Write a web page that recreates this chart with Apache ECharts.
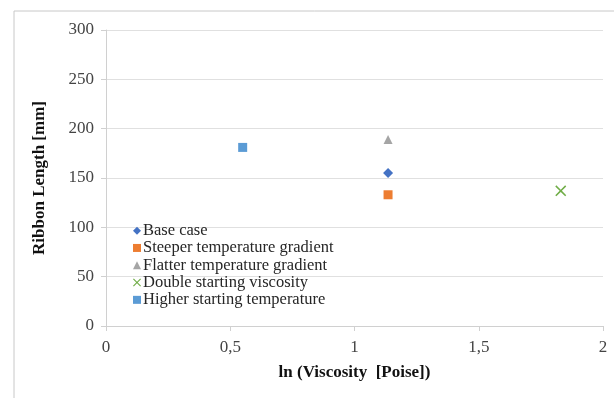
<!DOCTYPE html>
<html>
<head>
<meta charset="utf-8">
<script src="https://cdn.jsdelivr.net/npm/echarts@6/dist/echarts.min.js"></script>
<style>
  html, body { margin: 0; padding: 0; background: #fff; }
  #main { width: 614px; height: 398px; }
</style>
</head>
<body>
<div id="main"></div>
<script>
var seriesNames = ['Base case', 'Steeper temperature gradient', 'Flatter temperature gradient',
    'Double starting viscosity', 'Higher starting temperature'];
var xValues = [1.135, 1.135, 1.135, 1.83, 0.55];
var yValues = [155, 133, 189, 137, 181];
var colors = ['#4472C4', '#ED7D31', '#A5A5A5', '#70AD47', '#5B9BD5'];

var crossPath = 'path://M0,1L1,0L5,4L9,0L10,1L6,5L10,9L9,10L5,6L1,10L0,9L4,5Z';
var symbols = ['diamond', 'rect', 'triangle', crossPath, 'rect'];
var sizes = [10, 9, 9, 11, 9];

var myChart = echarts.init(document.getElementById('main'));

var series = seriesNames.map(function (name, i) {
    return {
        name: name,
        type: 'scatter',
        symbol: symbols[i],
        symbolSize: sizes[i],
        itemStyle: { color: colors[i], opacity: 1 },
        data: [[xValues[i], yValues[i]]]
    };
});

var option = {
    animation: false,
    backgroundColor: '#fff',
    graphic: [{
        type: 'rect',
        shape: { x: 14, y: 11, width: 620, height: 400 },
        style: { fill: 'none', stroke: '#c8c8c8', lineWidth: 1 },
        silent: true
    }],
    grid: { left: 106, right: 11, top: 30, bottom: 72 },
    legend: {
        orient: 'vertical',
        left: 128,
        top: 217,
        itemWidth: 8,
        itemHeight: 8,
        itemGap: 0,
        textStyle: { fontFamily: 'Liberation Serif', fontSize: 16.5, color: '#262626', lineHeight: 17.3, padding: [0, 0, 0, -3] },
        data: seriesNames
    },
    xAxis: {
        type: 'value',
        min: 0,
        max: 2,
        interval: 0.5,
        name: 'ln (Viscosity  [Poise])',
        nameLocation: 'middle',
        nameGap: 38,
        nameTextStyle: { fontFamily: 'Liberation Serif', fontSize: 17, fontWeight: 'bold', color: '#111' },
        axisLine: { show: true, lineStyle: { color: '#d0d0d0' } },
        axisTick: { show: true, length: 5, lineStyle: { color: '#d0d0d0' } },
        axisLabel: {
            fontFamily: 'Liberation Serif', fontSize: 17, color: '#444', margin: 13,
            formatter: function (v) { return String(v).replace('.', ','); }
        },
        splitLine: { show: false }
    },
    yAxis: {
        type: 'value',
        min: 0,
        max: 300,
        interval: 50,
        name: 'Ribbon Length [mm]',
        nameLocation: 'middle',
        nameGap: 58,
        nameTextStyle: { fontFamily: 'Liberation Serif', fontSize: 17, fontWeight: 'bold', color: '#111' },
        axisLine: { show: true, lineStyle: { color: '#d0d0d0' } },
        axisTick: { show: true, length: 5, lineStyle: { color: '#d0d0d0' } },
        axisLabel: { fontFamily: 'Liberation Serif', fontSize: 17, color: '#444', margin: 12 },
        splitLine: { show: true, lineStyle: { color: '#e0e0e0' } }
    },
    series: series
};
myChart.setOption(option);
</script>
</body>
</html>
